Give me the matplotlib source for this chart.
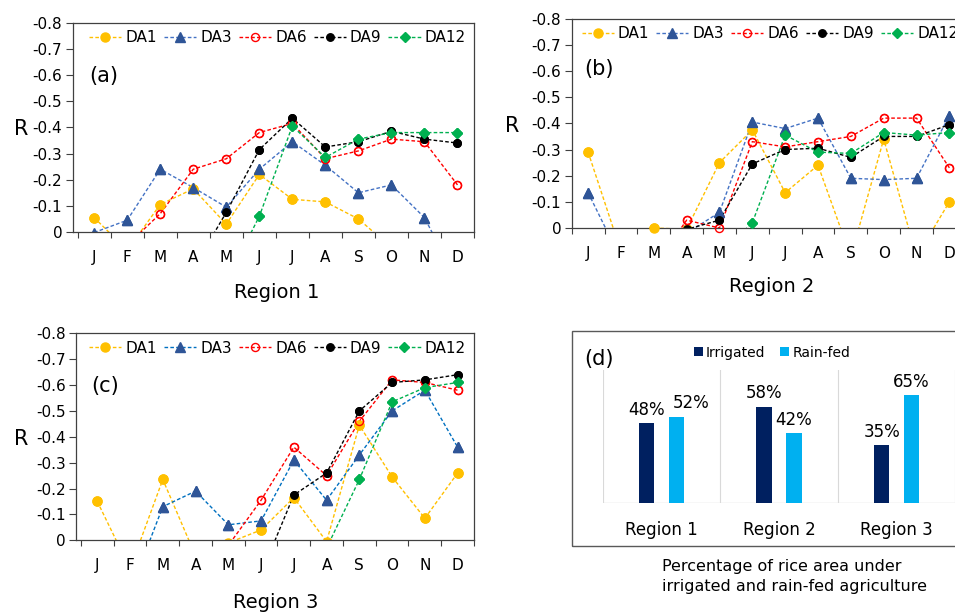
import numpy as np
import matplotlib.pyplot as plt
from matplotlib.patches import Rectangle

plt.rcParams['font.family'] = 'DejaVu Sans'
plt.rcParams['axes.unicode_minus'] = False

W, H = 955, 614

months = ['J', 'F', 'M', 'A', 'M', 'J', 'J', 'A', 'S', 'O', 'N', 'D']
series_names = ['DA1', 'DA3', 'DA6', 'DA9', 'DA12']

# correlation R by month; positive values sit below the 0 line and get cut off
r1_da1 = [-0.055, 0.07, -0.105, -0.165, -0.03, -0.22, -0.125, -0.115, -0.05, 0.06, 0.05, 0.05]
r1_da3 = [0.002, -0.045, -0.24, -0.17, -0.095, -0.24, -0.345, -0.255, -0.15, -0.18, -0.055, 0.19]
r1_da6 = [0.10, 0.05, -0.07, -0.24, -0.28, -0.38, -0.415, -0.28, -0.31, -0.355, -0.345, -0.18]
r1_da9 = [0.10, 0.10, 0.10, 0.14, -0.075, -0.315, -0.435, -0.325, -0.345, -0.385, -0.355, -0.34]
r1_da12 = [0.20, 0.20, 0.20, 0.20, 0.19, -0.06, -0.405, -0.285, -0.355, -0.38, -0.38, -0.38]

r2_da1 = [-0.29, 0.09, 0.0, 0.005, -0.25, -0.375, -0.135, -0.24, 0.11, -0.34, 0.11, -0.10]
r2_da3 = [-0.135, 0.12, 0.10, 0.02, -0.06, -0.405, -0.38, -0.42, -0.19, -0.185, -0.19, -0.43]
r2_da6 = [0.10, 0.10, 0.15, -0.03, 0.0, -0.33, -0.31, -0.33, -0.35, -0.42, -0.42, -0.23]
r2_da9 = [0.10, 0.10, 0.10, 0.005, -0.03, -0.245, -0.30, -0.305, -0.27, -0.35, -0.35, -0.395]
r2_da12 = [0.20, 0.20, 0.20, 0.20, 0.10, -0.02, -0.355, -0.29, -0.285, -0.365, -0.355, -0.365]

r3_da1 = [-0.15, 0.11, -0.235, 0.06, 0.01, -0.04, -0.165, 0.005, -0.445, -0.245, -0.085, -0.26]
r3_da3 = [0.20, 0.20, -0.13, -0.19, -0.06, -0.075, -0.31, -0.155, -0.33, -0.50, -0.58, -0.36]
r3_da6 = [0.20, 0.20, 0.20, 0.20, 0.02, -0.155, -0.36, -0.25, -0.46, -0.62, -0.61, -0.58]
r3_da9 = [0.20, 0.20, 0.20, 0.20, 0.20, 0.13, -0.175, -0.26, -0.50, -0.61, -0.62, -0.64]
r3_da12 = [0.20, 0.20, 0.20, 0.20, 0.20, 0.20, 0.20, 0.03, -0.235, -0.535, -0.59, -0.61]

regions = ['Region 1', 'Region 2', 'Region 3']
irrigated = [48, 58, 35]
rainfed = [52, 42, 65]

yticks = [0, -0.1, -0.2, -0.3, -0.4, -0.5, -0.6, -0.7, -0.8]

styles = {
    'DA1': dict(color='#FFC000', marker='o', ms=6.5, mfc='#FFC000', mec='#FFC000'),
    'DA3': dict(color='#4472C4', marker='^', ms=6.5, mfc='#2F5597', mec='#2F5597'),
    'DA6': dict(color='#FF0000', marker='o', ms=5.8, mfc='none', mec='#FF0000'),
    'DA9': dict(color='#000000', marker='o', ms=5.4, mfc='#000000', mec='#000000'),
    'DA12': dict(color='#00B050', marker='D', ms=4.6, mfc='#00B050', mec='#00B050'),
}


def fx(x):
    return x / W


def fy(y):
    return 1 - y / H


fig = plt.figure(figsize=(W / 100, H / 100), dpi=100)


def line_panel(box, xlim, data, tag, tag_xy, region, region_xy, r_xy, leg_xy, da3_color=None):
    l, t, r, b = box
    ax = fig.add_axes([fx(l), fy(b), (r - l) / W, (b - t) / H])
    x = np.arange(12)
    for name, vals in zip(series_names, data):
        st = dict(styles[name])
        if name == 'DA3' and da3_color:
            st['color'] = da3_color
        ax.plot(x, vals, ls=(0, (2.6, 1.6)), lw=1.0, label=name, **st)
        vals = np.array(vals)
        shown = np.where(vals <= 0, vals, np.nan)
        ax.plot(x, shown, ls='none', clip_on=False, zorder=3,
                **{k: v for k, v in st.items() if k != 'color'})
    ax.set_xlim(*xlim)
    ax.set_ylim(0, -0.8)
    ax.set_xticks(x)
    ax.set_xticklabels(months)
    ax.set_xticks(np.arange(-0.5, 12, 1), minor=True)
    ax.tick_params(axis='x', which='major', length=0, pad=13, labelsize=11)
    ax.tick_params(axis='x', which='minor', length=4.3, width=0.8, color='#404040')
    ax.set_yticks(yticks)
    ax.set_yticklabels(['0' if v == 0 else f'{v:.1f}' for v in yticks])
    ax.tick_params(axis='y', length=5, width=0.8, pad=2.5, labelsize=11, color='#404040')
    for s in ax.spines.values():
        s.set_color('#404040')
        s.set_linewidth(0.9)
    ax.legend(ncol=5, loc='center left', bbox_to_anchor=leg_xy, frameon=False, fontsize=11,
              handlelength=2.1, handletextpad=0.28, columnspacing=0.45,
              borderpad=0, borderaxespad=0, numpoints=1)
    fig.text(fx(tag_xy[0]), fy(tag_xy[1]), tag, fontsize=15, ha='center', va='center')
    fig.text(fx(region_xy[0]), fy(region_xy[1]), region, fontsize=14, ha='center', va='center')
    fig.text(fx(r_xy[0]), fy(r_xy[1]), 'R', fontsize=15, ha='center', va='center')
    return ax


line_panel((72.7, 22.7, 474, 232), (-0.65, 11.47),
           [r1_da1, r1_da3, r1_da6, r1_da9, r1_da12],
           '(a)', (104.2, 76), 'Region 1', (277, 292), (20.7, 129.3), (0.041, 0.928))
line_panel((571.7, 18.7, 965.8, 228), (-0.47, 11.47),
           [r2_da1, r2_da3, r2_da6, r2_da9, r2_da12],
           '(b)', (599, 69), 'Region 2', (771.3, 286), (512.3, 126), (0.025, 0.930))
line_panel((76, 333.3, 474, 540.3), (-0.65, 11.48),
           [r3_da1, r3_da3, r3_da6, r3_da9, r3_da12],
           '(c)', (104.8, 386), 'Region 3', (275.7, 602.7), (20.7, 439.3), (0.033, 0.928),
           da3_color='#0070C0')

# (d) bar chart of irrigated vs rain-fed share
fig.add_artist(Rectangle((fx(572.3), fy(545.7)), (960 - 572.3) / W, (545.7 - 331) / H,
                         transform=fig.transFigure, fill=False, edgecolor='#595959', lw=1))
axd = fig.add_axes([fx(602.7), fy(503), 352.7 / W, 133 / H])
xb = np.arange(len(regions))
off = 0.128
axd.bar(xb - off, irrigated, 0.13, color='#002060', label='Irrigated')
axd.bar(xb + off, rainfed, 0.13, color='#00B0F0', label='Rain-fed')

# value labels; the first rain-fed one is nudged right so it clears 48%
for i, v in enumerate(irrigated):
    axd.annotate(f'{v}%', (xb[i] - off, v), xytext=(0, 3), textcoords='offset points',
                 ha='center', va='bottom', fontsize=12)
for i, v in enumerate(rainfed):
    dx = 10.5 if i == 0 else 0
    axd.annotate(f'{v}%', (xb[i] + off, v), xytext=(dx, 3), textcoords='offset points',
                 ha='center', va='bottom', fontsize=12)

axd.set_xlim(-0.5, 2.5)
axd.set_ylim(0, 80)
for xv in np.arange(-0.5, 3, 1):
    axd.axvline(xv, color='#D9D9D9', lw=0.8, zorder=0)
axd.axhline(0, color='#D9D9D9', lw=1, zorder=0)
for s in axd.spines.values():
    s.set_visible(False)
axd.set_yticks([])
axd.set_xticks(xb)
axd.set_xticklabels(regions)
axd.tick_params(axis='x', length=0, pad=13, labelsize=12)
axd.legend(loc='center', bbox_to_anchor=(0.48, 1.13), ncol=2, frameon=False, fontsize=10,
           handlelength=0.65, handleheight=0.65, handletextpad=0.2, columnspacing=1.1,
           borderpad=0, borderaxespad=0)
fig.text(fx(599), fy(359), '(d)', fontsize=15, ha='center', va='center')
fig.text(fx(661.7), fy(566), 'Percentage of rice area under', fontsize=11.5, ha='left', va='center')
fig.text(fx(661.7), fy(587), 'irrigated and rain-fed agriculture', fontsize=11.5, ha='left', va='center')

fig.savefig('out.png', dpi=100)
